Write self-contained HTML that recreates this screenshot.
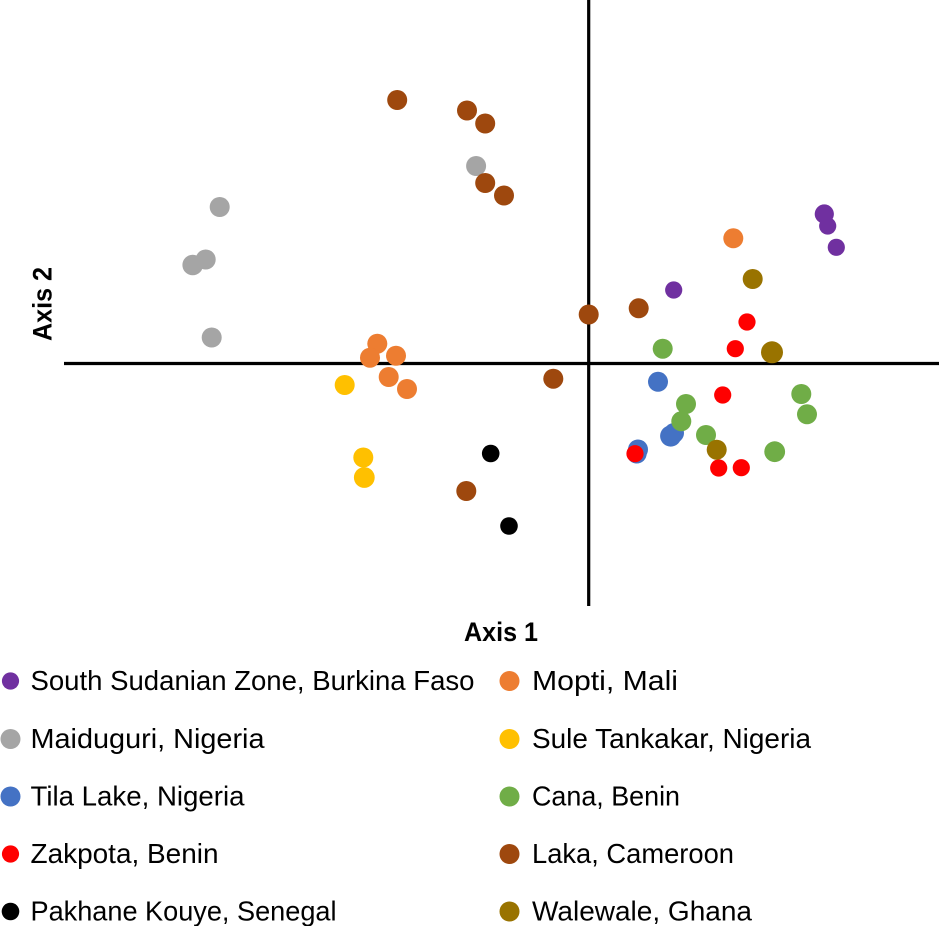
<!DOCTYPE html>
<html lang="en">
<head>
<meta charset="utf-8">
<title>Axis 1 / Axis 2 scatter chart</title>
<style>
html,body{margin:0;padding:0;background:#fff;}
#chart{display:block;width:939px;height:926px;font-family:"Liberation Sans",sans-serif;}
</style>
</head>
<body>
<svg id="chart" xmlns="http://www.w3.org/2000/svg" width="939" height="926" viewBox="0 0 939 926">
  <rect x="0" y="0" width="939" height="926" fill="#ffffff"/>
  <line x1="64" y1="363.5" x2="939" y2="363.5" stroke="#000" stroke-width="3.2"/>
  <line x1="588.7" y1="0" x2="588.7" y2="606" stroke="#000" stroke-width="3.2"/>
  <g id="marks-top"></g>
  <text x="464" y="641" font-size="27" font-weight="700" fill="#000" textLength="74" lengthAdjust="spacingAndGlyphs">Axis 1</text>
  <text transform="translate(51.5 341) rotate(-90)" font-size="27" font-weight="700" fill="#000" textLength="74" lengthAdjust="spacingAndGlyphs">Axis 2</text>
  <g id="legend"></g>
</svg>
<script>
/* Data values, in axis units (origin at the axes crossing) */
var seriesNames = ["South Sudanian Zone, Burkina Faso","Maiduguri, Nigeria","Tila Lake, Nigeria","Zakpota, Benin","Pakhane Kouye, Senegal","Mopti, Mali","Sule Tankakar, Nigeria","Cana, Benin","Laka, Cameroon","Walewale, Ghana"];

var purpleX = [2.356, 2.39, 2.476, 0.85];
var purpleY = [1.495, 1.375, 1.162, 0.735];
var grayX = [-3.69, -3.83, -3.96, -3.77, -1.126];
var grayY = [1.565, 1.04, 0.985, 0.26, 1.975];
var blueX = [0.693, 0.853, 0.82, 0.493, 0.48];
var blueY = [-0.183, -0.695, -0.725, -0.86, -0.9];
var redX = [1.583, 1.466, 1.34, 0.463, 1.3, 1.526];
var redY = [0.415, 0.148, -0.315, -0.902, -1.045, -1.042];
var blackX = [-0.98, -0.797];
var blackY = [-0.9, -1.625];
var orangeX = [1.446, -2.114, -2.187, -1.927, -2.0, -1.817];
var orangeY = [1.252, 0.198, 0.058, 0.078, -0.135, -0.255];
var yellowX = [-2.44, -2.254, -2.244];
var yellowY = [-0.215, -0.94, -1.14];
var greenX = [0.74, 0.973, 0.926, 1.173, 2.126, 2.183, 1.86];
var greenY = [0.148, -0.405, -0.578, -0.715, -0.305, -0.508, -0.882];
var brownX = [-1.915, -1.217, -1.035, -1.035, -0.847, 0.5, 0.0, -0.354, -1.224];
var brownY = [2.635, 2.53, 2.4, 1.805, 1.68, 0.552, 0.49, -0.152, -1.275];
var walewaleX = [1.64, 1.833, 1.28];
var walewaleY = [0.845, 0.112, -0.862];

var seriesX = [purpleX, grayX, blueX, redX, blackX, orangeX, yellowX, greenX, brownX, walewaleX];
var seriesY = [purpleY, grayY, blueY, redY, blackY, orangeY, yellowY, greenY, brownY, walewaleY];

/* Styling and legend layout */
var seriesColors = ["#7030A0","#A5A5A5","#4472C4","#FF0000","#000000","#ED7D31","#FFC000","#70AD47","#9E480E","#997300"];
var seriesRadii = [8.6,10,10,8.6,8.8,10,10,10,10,10];
var radiusOverrides = {"0-0":9.6,"1-2":10.3,"2-2":10.6,"6-2":10.4,"7-6":10.4,"9-1":11};
var drawOrder = [0,1,2,5,6,7,8,3,9,4];
var labelWidths = [444,234,214,188,306,146,279,148,202,220];
var legendRows = [681,739,796.5,854,911.5];

var SVG_NS = "http://www.w3.org/2000/svg";
function xScale(v){ return 588.7 + v * 100; }
function yScale(v){ return 363.5 - v * 100; }
function slug(s){ return s.toLowerCase().replace(/[^a-z]+/g,"-").replace(/-$/,""); }

var marks = document.getElementById("marks-top");
drawOrder.forEach(function(s){
  var group = document.createElementNS(SVG_NS,"g");
  
  
  seriesX[s].forEach(function(v,i){
    var c = document.createElementNS(SVG_NS,"circle");
    var key = s + "-" + i;
    c.setAttribute("cx", xScale(v));
    c.setAttribute("cy", yScale(seriesY[s][i]));
    c.setAttribute("r", radiusOverrides[key] || seriesRadii[s]);
    c.setAttribute("fill", seriesColors[s]);
    
    
    group.appendChild(c);
  });
  marks.appendChild(group);
});

var legend = document.getElementById("legend");
seriesNames.forEach(function(name,s){
  var col = s < 5 ? 0 : 1;
  var row = legendRows[s % 5];
  var entry = document.createElementNS(SVG_NS,"g");
  
  
  var dot = document.createElementNS(SVG_NS,"circle");
  dot.setAttribute("cx", col ? 509.5 : 10.5);
  dot.setAttribute("cy", row);
  dot.setAttribute("r", seriesRadii[s]);
  dot.setAttribute("fill", seriesColors[s]);
  
  
  entry.appendChild(dot);
  var t = document.createElementNS(SVG_NS,"text");
  t.setAttribute("x", col ? 532 : 30.5);
  t.setAttribute("y", row + 9);
  t.setAttribute("font-size", "28");
  t.setAttribute("fill", "#000");
  t.setAttribute("textLength", labelWidths[s]);
  t.setAttribute("lengthAdjust", "spacingAndGlyphs");
  
  
  t.textContent = name;
  entry.appendChild(t);
  legend.appendChild(entry);
});
</script>
</body>
</html>
